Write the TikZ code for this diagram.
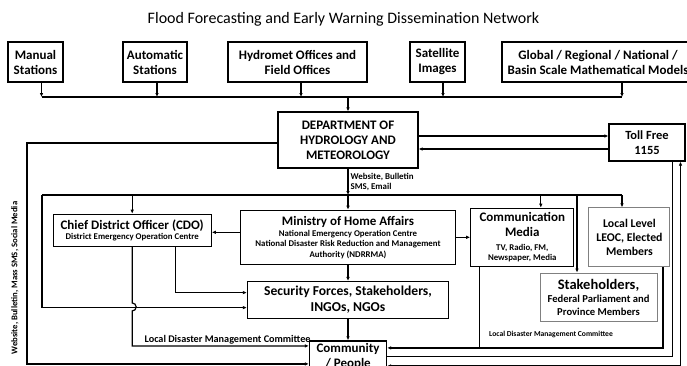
\documentclass[tikz,border=0pt]{standalone}
\usepackage{fontspec}
\setmainfont{Carlito}
\usepackage{tikz}
\usetikzlibrary{arrows.meta, positioning, calc}
\definecolor{inkline}{RGB}{0, 0, 0}
\definecolor{softedge}{RGB}{128, 128, 128}
\newcommand{\boxhead}{\fontsize{13}{15}\selectfont}
\newcommand{\boxnote}{\fontsize{8.8}{10.4}\selectfont}
\tikzset{
  baseblock/.style={
    rectangle, draw=inkline, line width=1.3pt, align=center,
    inner sep=1pt, font=\bfseries\fontsize{13}{15}\selectfont
  },
  sourceblock/.style={baseblock, minimum height=40pt},
  softblock/.style={baseblock, draw=softedge, line width=1pt},
  flowline/.style={
    draw=inkline, -{Latex[length=4pt, width=3.6pt]}, line width=1.2pt
  },
  twowayline/.style={
    draw=inkline, {Latex[length=4pt, width=3.6pt]}-{Latex[length=4pt, width=3.6pt]}, line width=1.2pt
  },
  busline/.style={draw=inkline, line width=1.2pt},
  linklabel/.style={font=\bfseries\fontsize{8.9}{10}\selectfont, align=left, inner sep=1pt}
}

\begin{document}
\begin{tikzpicture}[x=1pt, y=-1pt]
  \useasboundingbox (0,0) rectangle (687,365);

  % Title
  \node[font=\fontsize{16}{19}\selectfont] (title) at (343.5,19) {Flood Forecasting and Early Warning Dissemination Network};

  % Row 1: observation and model sources
  \node[sourceblock, minimum width=55pt] (manual) at (35.5,62) {Manual\\Stations};
  \node[sourceblock, minimum width=64pt] (auto) at (155,62) {Automatic\\Stations};
  \node[sourceblock, minimum width=139pt] (hydromet) at (297.5,62) {Hydromet Offices and\\Field Offices};
  \node[sourceblock, minimum width=55pt] (sat) at (437.5,62) {Satellite\\Images};
  \node[sourceblock, minimum width=192pt] (models) at (598,62) {Global / Regional / National /\\Basin Scale Mathematical Models};

  % Row 2: DHM and toll free line
  \node[baseblock, minimum width=140pt, minimum height=56pt] (dhm) at (348,140) {DEPARTMENT OF\\HYDROLOGY AND\\METEOROLOGY};
  \node[baseblock, minimum width=76pt, minimum height=37pt, font=\bfseries\fontsize{12.5}{15}\selectfont] (toll) at (647,142.5) {Toll Free\\1155};

  % Row 3: agencies and media
  \node[baseblock, below=41pt of dhm, minimum width=215pt, minimum height=54pt, font=\bfseries\boxnote] (moha) {
    {\boxhead Ministry of Home Affairs}\\[1pt]
    National Emergency Operation Centre\\
    National Disaster Risk Reduction and Management\\
    Authority (NDRRMA)
  };
  \node[baseblock, left=28pt of moha, yshift=7pt, minimum width=158pt, minimum height=32pt, font=\bfseries\boxnote] (cdo) {
    {\boxhead Chief District Officer (CDO)}\\
    District Emergency Operation Centre
  };
  \node[baseblock, right=14pt of moha, minimum width=103pt, minimum height=58pt, font=\bfseries\boxnote] (media) {
    {\boxhead Communication}\\[5pt]
    {\boxhead Media}\\[3pt]
    TV, Radio, FM,\\
    Newspaper, Media
  };
  \node[softblock, right=14pt of media, minimum width=81pt, minimum height=59pt, font=\bfseries\fontsize{11.8}{14}\selectfont] (local) {Local Level\\LEOC, Elected\\Members};

  % Row 4: responders and representatives
  \node[baseblock, below=16pt of moha, minimum width=201pt, minimum height=37pt, font=\bfseries\fontsize{13.6}{16}\selectfont] (security) {Security Forces, Stakeholders,\\INGOs, NGOs};
  \node[softblock, minimum width=117pt, minimum height=48pt, font=\bfseries\fontsize{10.6}{12.5}\selectfont] (stake) at (598.5,297) {
    {\fontsize{14.5}{16}\selectfont Stakeholders,}\\[1pt]
    Federal Parliament and\\
    Province Members
  };

  % Row 5: community
  \node[baseblock, below=21pt of security, minimum width=77pt, minimum height=31pt, font=\bfseries\fontsize{13}{15.5}\selectfont] (people) {Community\\/ People};

  % Sources into DHM
  \coordinate (topbus) at (348,97);
  \foreach \src/\dx in {manual/6, auto/2, hydromet/3.5, sat/5.5, models/24} {
    \draw[flowline] ([xshift=\dx pt]\src.south) -- ([xshift=\dx pt]\src.south |- topbus);
  }
  \draw[busline] ([xshift=6pt]manual.south |- topbus) -- ([xshift=24pt]models.south |- topbus);
  \draw[flowline] (topbus) -- (dhm.north);

  % DHM and toll free
  \draw[flowline] ([yshift=4pt]dhm.east) -- ([yshift=4pt]dhm.east -| toll.west);
  \draw[flowline] ([yshift=-9pt]dhm.east -| toll.west) -- ([yshift=-9pt]dhm.east);

  % Direct channel to the community
  \coordinate (webrail) at (27,0);
  \draw[flowline] ([yshift=-3pt]dhm.west) -| ([yshift=-7.5pt]people.west -| webrail) -- ([yshift=-7.5pt]people.west);
  \node[linklabel, rotate=90, font=\bfseries\fontsize{8.7}{10}\selectfont] (weblabel) at (15,278) {Website, Bulletin, Mass SMS, Social Media};

  % DHM down to the distribution bus
  \coordinate (midbus) at (348,195);
  \coordinate (busleft) at (42,195);
  \coordinate (busright) at (622,195);
  \draw[flowline] (dhm.south) -- node[linklabel, right=1pt] {Website, Bulletin\\SMS, Email} (midbus);
  \draw[busline] (busleft) -- (busright);
  \draw[flowline] (cdo.north |- midbus) -- (cdo.north);
  \draw[flowline] (midbus) -- (moha.north);
  \draw[flowline] ([xshift=18.5pt]media.north |- midbus) -- ([xshift=18.5pt]media.north);
  \draw[flowline] ([xshift=-21.5pt]stake.north |- midbus) -- ([xshift=-21.5pt]stake.north);
  \draw[flowline] (busright) -- (busright |- local.north);
  \draw[flowline] (busleft) |- ([yshift=-7.5pt]security.west);

  % Ministry links
  \draw[flowline] ([yshift=5pt]moha.west) -- ([yshift=5pt]moha.west -| cdo.east);
  \draw[flowline] (moha.east) -- (media.west);
  \draw[flowline] (moha.south) -- (security.north);
  \draw[flowline] (security.south) -- (people.north);

  % CDO links
  \draw[flowline] ([xshift=43pt]cdo.south) |- ([yshift=7.5pt]security.west);
  \draw[flowline] (cdo.south) -- ([yshift=-56pt]cdo.south) arc[start angle=90, end angle=-90, radius=4pt]
    |- node[linklabel, pos=0.77, above=0pt, font=\bfseries\fontsize{10.2}{11}\selectfont] {Local Disaster Management Committee} ([yshift=10.5pt]people.west);

  % Local committee return lines
  \coordinate (ldmcjoin) at ([yshift=8.5pt]people.east);
  \coordinate (mediadrop) at ([xshift=-42.5pt]media.south);
  \draw[flowline] ([xshift=33.5pt]local.south) |- (ldmcjoin);
  \draw[busline] (mediadrop) -- (mediadrop |- ldmcjoin);
  \node[linklabel, font=\bfseries\fontsize{7.6}{8.5}\selectfont] (ldmclabel) at (551,334) {Local Disaster Management Committee};

  % Toll free and community
  \draw[busline] ([xshift=25.5pt]toll.south) |- (people.east);
  \draw[twowayline] ([yshift=-9.5pt]people.east) -| ([xshift=33.5pt]toll.south);
\end{tikzpicture}
\end{document}
